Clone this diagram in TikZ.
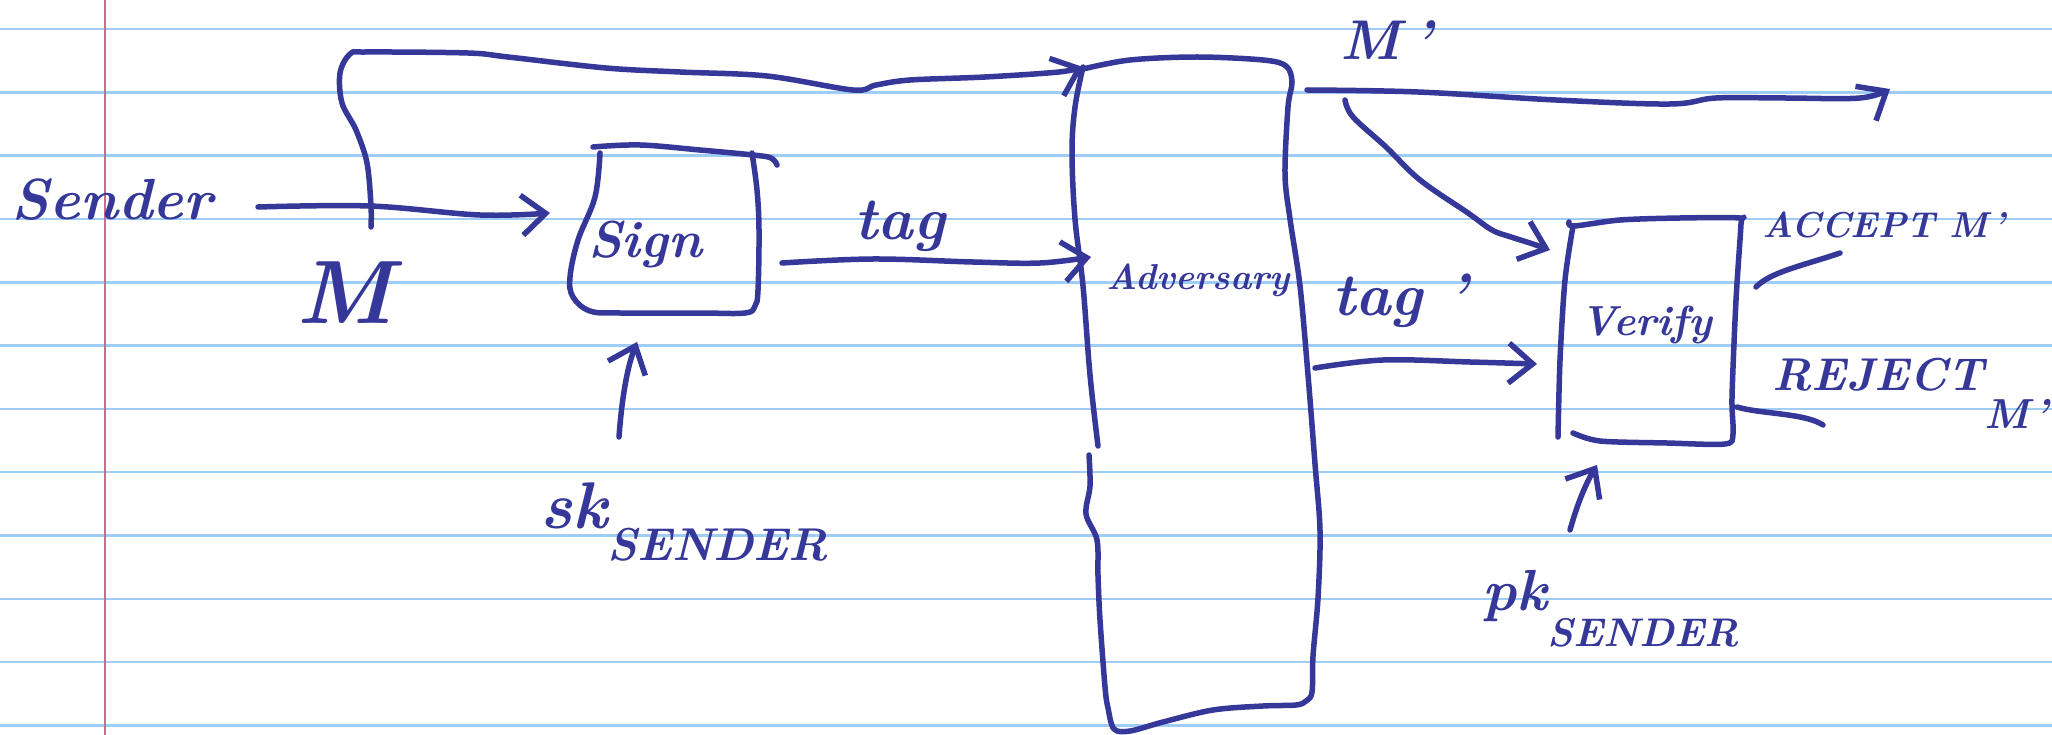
\documentclass[tikz,border=0pt]{standalone}
\usepackage{fontspec}
\usetikzlibrary{arrows.meta}
\definecolor{ink}{RGB}{53,56,152}
\definecolor{ruleblue}{RGB}{160,204,248}
\definecolor{marginred}{RGB}{196,112,140}
\begin{document}
\begin{tikzpicture}[x=1pt,y=-1pt,
  pen/.style={draw=ink, line width=5.5pt, line cap=round, line join=round},
  penarrow/.style={pen, -{Straight Barb[length=24pt,width=40pt]}},
  hand/.style={text=ink, inner sep=0pt},
  hsize/.style={font=\bfseries\itshape\fontsize{#1}{#1}\selectfont},
]
% paper
\fill[white] (0,0) rectangle (2052,735);
\useasboundingbox (0,0) rectangle (2052,735);
\foreach \k in {0,...,11}
  \draw[ruleblue, line width=2.5pt] (0,{29.1+63.3*\k}) -- (2052,{29.1+63.3*\k});
\draw[marginred, line width=2.2pt] (105,0) -- (105,735);

% connector end points
\coordinate (mstart) at (258,207);
\coordinate (signin) at (550,213);
\coordinate (loopstart) at (371,227);
\coordinate (advtopleft) at (1083,67);
\coordinate (signout) at (782,263);
\coordinate (advin) at (1091,257);
\coordinate (skfoot) at (619,437);
\coordinate (signbottom) at (637,342);
\coordinate (advout) at (1307,90);
\coordinate (mprimeend) at (1890,89);
\coordinate (branch) at (1345,100);
\coordinate (verifyin) at (1550,250);
\coordinate (advout2) at (1315,368);
\coordinate (verifyin2) at (1537,364);
\coordinate (pkfoot) at (1570,530);
\coordinate (verifybottom) at (1597,465);
\coordinate (acceptfrom) at (1756,287);
\coordinate (acceptto) at (1840,253);
\coordinate (rejectfrom) at (1737,407);
\coordinate (rejectto) at (1823,425);

% labels
\node[hand, hsize=58, anchor=base] (sender) at (112,220) {Sender};
\node[hand, hsize=90, anchor=base] (mlabel) at (345,323) {M};
\node[hand, hsize=52, anchor=base] (signtxt) at (645,258) {Sign};
\node[hand, hsize=60, anchor=base] (tagtxt) at (900,240) {tag};
\node[hand, hsize=66, anchor=base west] (sktxt) at (540,528)
  {sk\raisebox{-32pt}{\fontsize{46}{46}\selectfont SENDER}};
\node[hand, hsize=36, anchor=base] (advtxt) at (1198,290) {Adversary};
\node[hand, hsize=56, anchor=base west] (mprimetxt) at (1340,60) {M\kern12pt'};
\node[hand, hsize=60, anchor=base west] (tagprimetxt) at (1332,315) {tag\kern24pt'};
\node[hand, hsize=42, anchor=base] (verifytxt) at (1646,335) {Verify};
\node[hand, hsize=36, anchor=base west] (accepttxt) at (1762,238) {ACCEPT M\kern4pt'};
\node[hand, hsize=46, anchor=base west] (rejecttxt) at (1772,390)
  {REJECT\raisebox{-38pt}{\fontsize{42}{42}\selectfont M\kern4pt'}};
\node[hand, hsize=58, anchor=base west] (pktxt) at (1482,610)
  {pk\raisebox{-36pt}{\fontsize{40}{40}\selectfont SENDER}};

% Sign box
\draw[pen] plot[smooth, tension=0.6] coordinates
  {(593,147) (640,145) (700,150) (753,155) (771,158) (777,165)};
\draw[pen] plot[smooth, tension=0.6] coordinates
  {(600,153) (595,197) (578,240) (570,277) (573,297) (590,311) (620,313)
   (700,313) (745,313) (755,306) (758,290) (759,230) (757,190) (752,153)};

% Adversary box
\draw[pen] plot[smooth, tension=0.55] coordinates
  {(1083,69) (1130,60) (1197,57) (1263,60) (1286,66) (1292,82) (1288,107)
   (1285,174) (1290,219) (1300,286) (1308,375) (1315,464) (1320,531)
   (1318,598) (1313,656) (1312,692) (1306,701) (1296,705) (1263,706)
   (1213,710) (1163,722) (1130,731) (1114,729) (1108,708) (1105,687)
   (1100,620) (1098,576) (1097,540) (1086,514) (1090,486) (1089,455)};
\draw[pen] plot[smooth, tension=0.6] coordinates
  {(1083,67) (1075,107) (1072,152) (1075,219) (1083,286) (1090,375) (1098,446)};

% Verify box
\draw[pen] plot[smooth, tension=0.5] coordinates
  {(1558,437) (1560,360) (1565,280) (1573,226)};
\draw[pen] plot[smooth, tension=0.5] coordinates
  {(1569,222) (1574,226) (1620,220) (1680,218) (1740,218) (1741,224)
   (1736,300) (1732,397) (1733,434) (1725,444) (1667,443) (1600,441) (1573,433)};

% message flow
\draw[penarrow] plot[smooth, tension=0.6] coordinates
  {(mstart) (370,206) (480,215) (signin)};
\draw[penarrow] plot[smooth, tension=0.55] coordinates
  {(loopstart) (371,206) (367,163) (356,130) (342,103) (340,73) (350,54)
   (366,52) (468,53) (508,57) (606,68) (680,72) (767,76) (853,90) (876,85)
   (910,80) (985,77) (1059,72) (advtopleft)};
\draw[penarrow] plot[smooth, tension=0.6] coordinates
  {(signout) (873,259) (973,262) (1040,263) (advin)};
\draw[penarrow] (skfoot) .. controls (622,395) and (628,365) .. (signbottom);
\draw[penarrow] plot[smooth, tension=0.6] coordinates
  {(advout) (1418,92) (1556,100) (1670,104) (1716,98) (1785,98) (1860,98) (mprimeend)};
\draw[penarrow] plot[smooth, tension=0.6] coordinates
  {(branch) (1353,117) (1386,147) (1420,180) (1468,213) (1492,230)
   (1511,237) (1530,243) (verifyin)};
\draw[penarrow] plot[smooth, tension=0.6] coordinates
  {(advout2) (1383,360) (1470,362) (verifyin2)};
\draw[penarrow] (pkfoot) .. controls (1577,505) and (1585,485) .. (verifybottom);

% outcome strokes
\draw[pen] (acceptfrom) .. controls (1770,272) and (1805,265) .. (acceptto);
\draw[pen] (rejectfrom) .. controls (1760,414) and (1805,413) .. (rejectto);
\end{tikzpicture}
\end{document}
